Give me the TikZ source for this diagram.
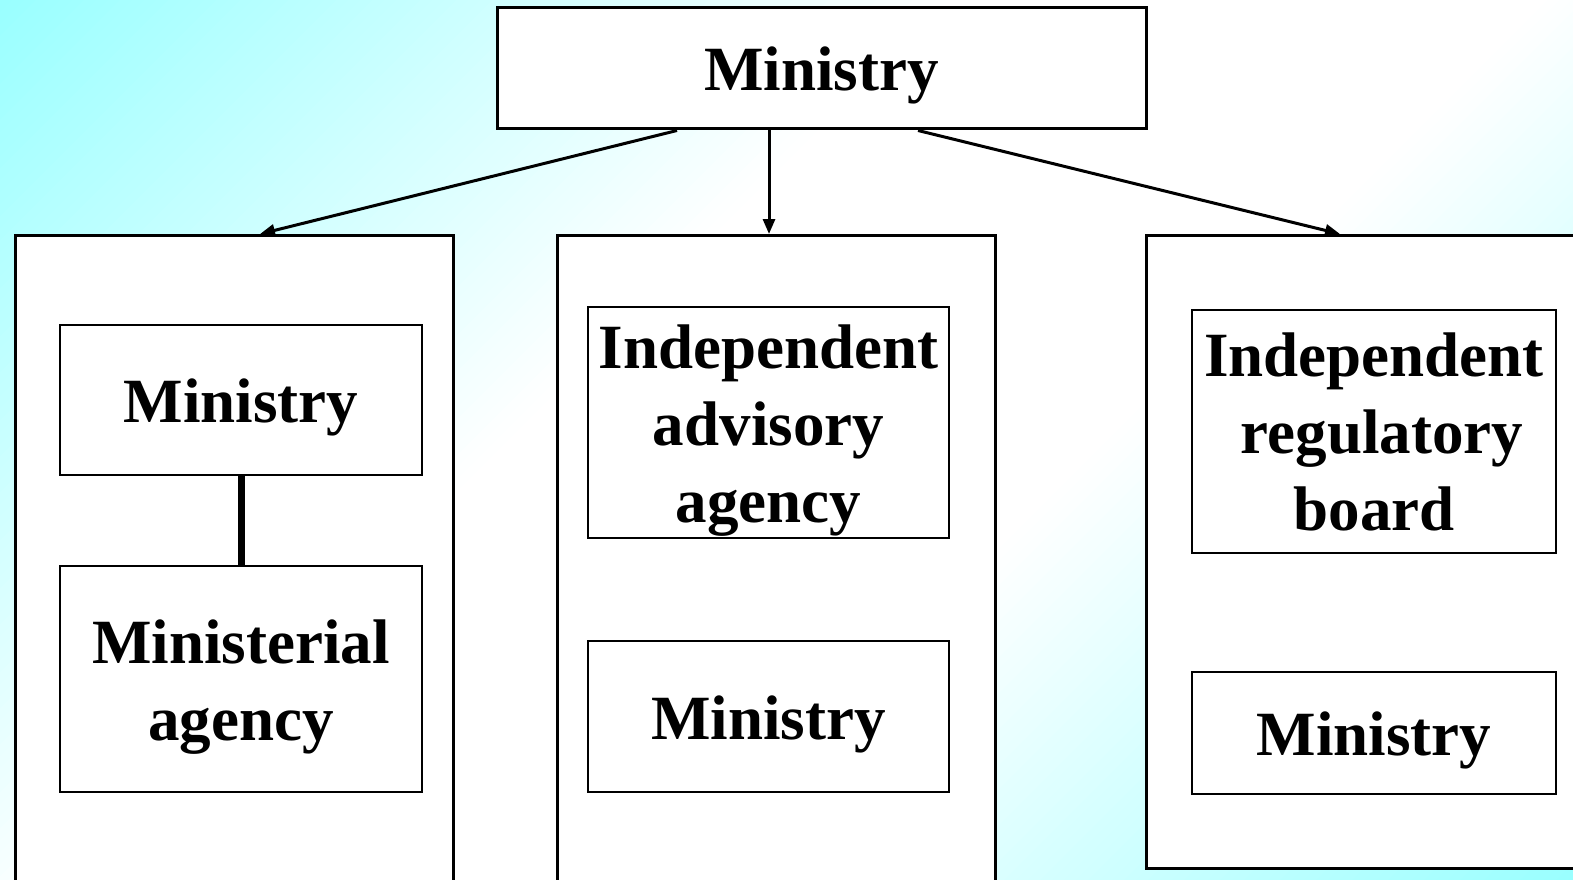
\documentclass[tikz,border=0pt]{standalone}
\usepackage{fontspec}
\setmainfont{Liberation Serif}
\usetikzlibrary{arrows.meta}

\definecolor{bgcyan}{RGB}{153,255,255}

% every text line gets the same height and depth, so boxes centre like slide text
\newcommand\boxstrut{\vrule height 61pt depth 16pt width 0pt}

\begin{document}
\begin{tikzpicture}[x=1pt,y=-1pt,
  lbl/.style={font={\fontsize{63pt}{77pt}\selectfont\bfseries}, align=center, inner sep=0pt},
  outerbox/.style={draw, line width=3pt, fill=white, inner sep=0pt, anchor=north,
                   minimum width=438pt},
  innerbox/.style={lbl, draw, line width=2pt, fill=white},
  link/.style={line width=3pt, -{Triangle[length=15pt,width=12pt]}},
  tie/.style={line width=7pt}]

\useasboundingbox (0,0) rectangle (1573,880);
\begin{scope}
\clip (0,0) rectangle (1573,880);

% background: 45-degree bands, cyan in the top-left and bottom-right corners,
% a broad white band across the middle (s = x + y runs from 0 to 2453)
\begin{scope}[x={(0.5pt,-0.5pt)}, y={(1pt,1pt)}]
  \foreach \i in {-2,...,207}{
    \pgfmathsetmacro\sa{12*\i}
    \pgfmathsetmacro\sb{12*\i+12.8}
    \pgfmathsetmacro\pct{100*min(1,max(1-(12*\i+6)/950,0)+max((12*\i+6-1550)/903,0))}
    \fill[bgcyan!\pct!white] (\sa,-1000) -- (\sb,-1000) -- (\sb,1000) -- (\sa,1000) -- cycle;
  }
\end{scope}

% head box
\node[innerbox, line width=3pt, minimum width=649pt, minimum height=121pt]
  (top) at (821.5,68.5) {\boxstrut Ministry};

% three columns
\node[outerbox, minimum height=700pt] (lo) at (234,234) {};
\node[outerbox, minimum height=700pt] (mo) at (776.5,234) {};
\node[outerbox, minimum height=633pt] (ro) at (1365,234) {};

% left column
\node[innerbox, minimum width=362pt, minimum height=150pt]
  (lm) at (241,400) {\boxstrut Ministry};
\node[innerbox, minimum width=362pt, minimum height=226pt]
  (la) at (241,679) {\boxstrut Ministerial\\\boxstrut agency};

% middle column
\node[innerbox, minimum width=361pt, minimum height=227pt]
  (ma) at (768.5,422.5) {\boxstrut Independent\\\boxstrut advisory\\\boxstrut agency};
\node[innerbox, minimum width=361pt, minimum height=151pt]
  (mm) at (768.5,716.5) {\boxstrut Ministry};

% right column
\node[innerbox, minimum width=364pt, minimum height=243pt]
  (rb) at (1374,431) {\boxstrut Independent\\\boxstrut\hspace*{.25em}regulatory\\\boxstrut board};
\node[innerbox, minimum width=364pt, minimum height=122pt]
  (rm) at (1374,733) {\boxstrut Ministry};

% connectors
\draw[tie] (lm.south) -- (la.north);
\draw[link] ([xshift=-144.5pt]top.south) -- ([xshift=26pt]lo.north);
\draw[link] ([xshift=-52.5pt]top.south) -- ([xshift=-7.5pt]mo.north);
\draw[link] ([xshift=96.5pt]top.south) -- ([xshift=-25pt]ro.north);
\end{scope}
\end{tikzpicture}
\end{document}
